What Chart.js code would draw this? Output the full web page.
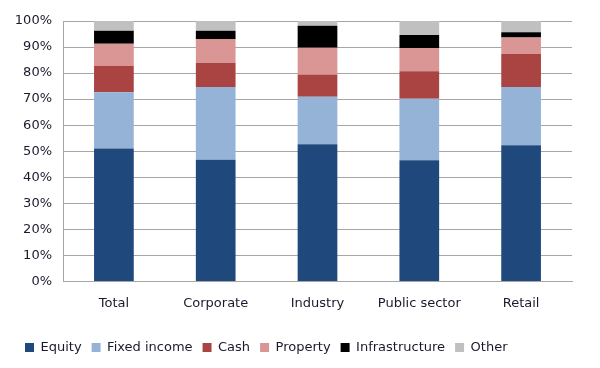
<!DOCTYPE html>
<html>
<head>
<meta charset="utf-8">
<script src="https://cdn.jsdelivr.net/npm/chart.js@4/dist/chart.umd.min.js"></script>
<style>
  html, body { margin: 0; padding: 0; background: #fff; }
  #wrap { width: 600px; height: 368px; }
</style>
</head>
<body>
<div id="wrap"><canvas id="chart"></canvas></div>
<script>
const categories = ['Total', 'Corporate', 'Industry', 'Public sector', 'Retail'];
const equity = [51, 46.7, 52.7, 46.5, 52.3];
const fixedIncome = [21.6, 28, 18.2, 23.6, 22.4];
const cash = [10.2, 9.3, 8.6, 10.6, 12.6];
const property = [8.5, 9.1, 10.2, 8.9, 6.4];
const infrastructure = [5, 3.2, 8.5, 5, 2];
const other = [3.7, 3.7, 1.8, 5.4, 4.3];
const yTicks = [0, 10, 20, 30, 40, 50, 60, 70, 80, 90, 100];

const font = "'DejaVu Sans', sans-serif";
const textColor = '#1a1a2e';

function series(label, data, color) {
    return { label, data, backgroundColor: color, borderWidth: 0,
             barPercentage: 0.78, categoryPercentage: 0.5 };
}

new Chart(document.getElementById('chart'), {
    type: 'bar',
    data: {
        labels: categories,
        datasets: [
            series('Equity', equity, '#1f497d'),
            series('Fixed income', fixedIncome, '#95b3d7'),
            series('Cash', cash, '#a94442'),
            series('Property', property, '#da9694'),
            series('Infrastructure', infrastructure, '#000000'),
            series('Other', other, '#c0c0c0')
        ]
    },
    options: {
        responsive: true,
        maintainAspectRatio: false,
        animation: false,
        layout: { padding: { left: 15, right: 28, top: 21, bottom: 4 } },
        plugins: {
            tooltip: { enabled: false },
            legend: {
                position: 'bottom',
                align: 'start',
                labels: {
                    boxWidth: 9, boxHeight: 9, padding: 10,
                    color: textColor,
                    font: { family: font, size: 13 }
                }
            }
        },
        scales: {
            x: {
                stacked: true,
                grid: { display: false, drawTicks: false },
                border: { color: '#a6a6a6' },
                ticks: { color: textColor, padding: 14, font: { family: font, size: 13 } },
                afterFit: axis => { axis.height += 6; }
            },
            y: {
                stacked: true,
                min: 0, max: 100,
                afterBuildTicks: axis => { axis.ticks = yTicks.map(v => ({ value: v })); },
                grid: { color: '#a6a6a6', drawTicks: false },
                border: { color: '#a6a6a6' },
                ticks: {
                    color: textColor, padding: 11,
                    font: { family: font, size: 13 },
                    callback: v => v + '%'
                },
                afterFit: axis => { axis.width = 48; }
            }
        }
    }
});
</script>
</body>
</html>
